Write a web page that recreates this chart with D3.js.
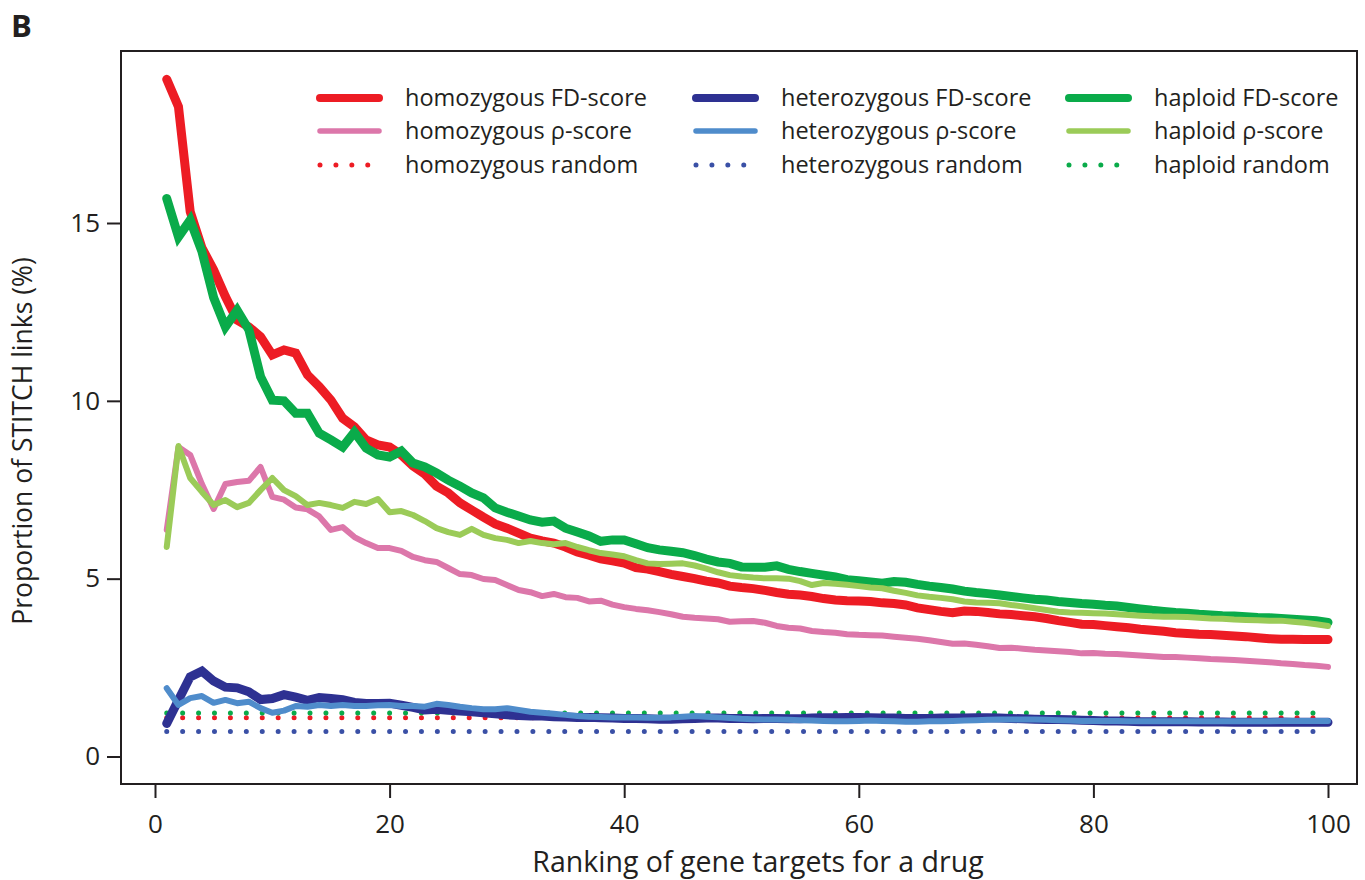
<!DOCTYPE html>
<html>
<head>
<meta charset="utf-8">
<script src="https://cdn.jsdelivr.net/npm/d3@7/dist/d3.min.js"></script>
<style>
  html, body { margin: 0; padding: 0; background: #fff; }
  svg { display: block; }
  text { font-family: "Open Sans", "DejaVu Sans", sans-serif; fill: #231f20; }
</style>
</head>
<body>
<svg id="chart" width="1365" height="880"></svg>
<script>
// Rank of the gene target (1..100)
const ranks = d3.range(1, 101);

// Proportion of STITCH links (%) per rank
const homozygousFD = [
  19.04, 18.27, 15.32, 14.3, 13.68, 12.93, 12.27, 12.08, 11.8, 11.29,
  11.43, 11.34, 10.73, 10.4, 10.02, 9.51, 9.27, 8.9, 8.76, 8.7,
  8.48, 8.17, 7.94, 7.6, 7.41, 7.13, 6.93, 6.73, 6.54, 6.42,
  6.28, 6.14, 6.06, 6.0, 5.89, 5.75, 5.66, 5.56, 5.5, 5.44,
  5.31, 5.27, 5.2, 5.12, 5.06, 5.0, 4.93, 4.88, 4.79, 4.75,
  4.72, 4.67, 4.61, 4.56, 4.54, 4.5, 4.44, 4.4, 4.38, 4.37,
  4.36, 4.32, 4.3, 4.26, 4.18, 4.13, 4.08, 4.04, 4.09, 4.08,
  4.05, 4.01, 3.99, 3.96, 3.93, 3.88, 3.82, 3.77, 3.72, 3.71,
  3.68, 3.65, 3.62, 3.58, 3.55, 3.52, 3.48, 3.46, 3.44, 3.43,
  3.41, 3.39, 3.37, 3.34, 3.31, 3.3, 3.3, 3.29, 3.29, 3.29
];
const homozygousRho = [
  6.37, 8.7, 8.48, 7.66, 6.96, 7.66, 7.72, 7.75, 8.14, 7.3,
  7.22, 7.0, 6.95, 6.75, 6.37, 6.45, 6.17, 6.0, 5.86, 5.86,
  5.78, 5.61, 5.52, 5.47, 5.3, 5.13, 5.1, 4.99, 4.96, 4.82,
  4.68, 4.62, 4.51, 4.57, 4.48, 4.46, 4.36, 4.38, 4.27, 4.2,
  4.15, 4.11, 4.06, 4.0, 3.93, 3.9, 3.88, 3.86, 3.79, 3.8,
  3.81, 3.76, 3.67, 3.62, 3.6, 3.53, 3.5, 3.48, 3.44, 3.42,
  3.41, 3.4, 3.37, 3.34, 3.31, 3.27, 3.22, 3.17, 3.18, 3.14,
  3.1, 3.05, 3.06, 3.03, 3.0, 2.98, 2.96, 2.94, 2.9, 2.91,
  2.89, 2.88, 2.86, 2.84, 2.82, 2.8, 2.8, 2.78, 2.76, 2.74,
  2.73, 2.71, 2.69, 2.67, 2.65, 2.62, 2.6, 2.57, 2.55, 2.52
];
const heterozygousFD = [
  0.93, 1.59, 2.24, 2.4, 2.12, 1.95, 1.93, 1.82, 1.6, 1.63,
  1.74, 1.67, 1.58, 1.66, 1.63, 1.6, 1.52, 1.49, 1.49, 1.5,
  1.44, 1.38, 1.31, 1.33, 1.3, 1.28, 1.26, 1.23, 1.2, 1.17,
  1.15, 1.14, 1.14, 1.12, 1.11, 1.1, 1.1, 1.09, 1.08, 1.07,
  1.07, 1.06, 1.05, 1.05, 1.06, 1.07, 1.08, 1.08, 1.07, 1.07,
  1.06, 1.07, 1.07, 1.06, 1.06, 1.08, 1.09, 1.09, 1.1, 1.1,
  1.09, 1.08, 1.08, 1.07, 1.07, 1.07, 1.08, 1.08, 1.08, 1.09,
  1.09, 1.08, 1.07, 1.06, 1.05, 1.04, 1.04, 1.03, 1.02, 1.01,
  1.0, 1.0, 0.99, 0.98, 0.98, 0.98, 0.98, 0.98, 0.97, 0.97,
  0.97, 0.96, 0.96, 0.96, 0.96, 0.97, 0.96, 0.96, 0.96, 0.96
];
const heterozygousRho = [
  1.92, 1.45, 1.64, 1.7, 1.51, 1.59, 1.5, 1.54, 1.36, 1.23,
  1.29, 1.42, 1.4, 1.45, 1.42, 1.45, 1.42, 1.42, 1.44, 1.45,
  1.42, 1.42, 1.4, 1.48, 1.45, 1.4, 1.36, 1.33, 1.33, 1.36,
  1.31, 1.26, 1.23, 1.2, 1.17, 1.14, 1.12, 1.11, 1.1, 1.1,
  1.1, 1.09, 1.09, 1.1, 1.12, 1.14, 1.12, 1.1, 1.08, 1.06,
  1.05, 1.04, 1.04, 1.03, 1.02, 1.01, 1.0, 0.99, 0.99, 1.0,
  1.01, 1.0, 0.99, 0.98, 0.98, 0.99, 0.99, 1.0, 1.01, 1.02,
  1.03, 1.04, 1.04, 1.04, 1.04, 1.03, 1.02, 1.01, 1.0, 1.0,
  1.0, 1.0, 0.99, 0.99, 0.99, 0.99, 0.99, 0.99, 0.99, 0.99,
  0.99, 0.99, 0.99, 0.99, 0.99, 1.0, 1.0, 1.0, 1.0, 1.0
];
const haploidFD = [
  15.69, 14.61, 15.08, 14.2, 12.9, 12.08, 12.55, 12.0, 10.68, 10.02,
  10.0, 9.65, 9.65, 9.09, 8.9, 8.7, 9.12, 8.67, 8.48, 8.42,
  8.59, 8.25, 8.14, 7.97, 7.77, 7.6, 7.41, 7.27, 6.99, 6.87,
  6.76, 6.65, 6.59, 6.62, 6.42, 6.31, 6.2, 6.05, 6.09, 6.09,
  5.98, 5.87, 5.81, 5.77, 5.73, 5.65, 5.55, 5.47, 5.43, 5.33,
  5.32, 5.32, 5.36, 5.26, 5.2, 5.15, 5.1, 5.05, 4.97, 4.94,
  4.91, 4.87, 4.92, 4.9, 4.84, 4.79, 4.75, 4.71, 4.65, 4.61,
  4.58, 4.54, 4.5, 4.46, 4.42, 4.4, 4.36, 4.33, 4.3, 4.28,
  4.25, 4.23, 4.19, 4.15, 4.11, 4.08, 4.05, 4.03, 4.0, 3.98,
  3.96, 3.95, 3.93, 3.91, 3.9, 3.88, 3.86, 3.84, 3.82, 3.77
];
const haploidRho = [
  5.89, 8.73, 7.83, 7.44, 7.07, 7.21, 7.01, 7.13, 7.49, 7.83,
  7.49, 7.32, 7.07, 7.13, 7.07, 6.99, 7.16, 7.1, 7.24, 6.87,
  6.9, 6.79, 6.62, 6.42, 6.31, 6.23, 6.4, 6.23, 6.14, 6.09,
  6.0, 6.06, 6.0, 5.97, 6.0, 5.89, 5.8, 5.72, 5.68, 5.63,
  5.52, 5.43, 5.41, 5.42, 5.43, 5.37, 5.28, 5.18, 5.1, 5.06,
  5.03, 5.01, 5.01, 5.0, 4.93, 4.82, 4.88, 4.86, 4.83, 4.79,
  4.75, 4.73, 4.66, 4.6, 4.53, 4.49, 4.46, 4.42, 4.36, 4.33,
  4.32, 4.31, 4.26, 4.22, 4.17, 4.12, 4.07, 4.05, 4.04, 4.03,
  4.02, 4.0, 3.98, 3.96, 3.94, 3.93, 3.93, 3.92, 3.9, 3.88,
  3.87, 3.85, 3.84, 3.83, 3.82, 3.82, 3.79, 3.76, 3.72, 3.67
];

// Random baselines (constant over rank)
const homozygousRandom = 1.09;
const heterozygousRandom = 0.70;
const haploidRandom = 1.22;

const xTicks = [0, 20, 40, 60, 80, 100];
const yTicks = [0, 5, 10, 15];

const seriesNames = [
  "homozygous FD-score", "homozygous ρ-score", "homozygous random",
  "heterozygous FD-score", "heterozygous ρ-score", "heterozygous random",
  "haploid FD-score", "haploid ρ-score", "haploid random"
];
const seriesValues = [
  homozygousFD, homozygousRho, ranks.map(() => homozygousRandom),
  heterozygousFD, heterozygousRho, ranks.map(() => heterozygousRandom),
  haploidFD, haploidRho, ranks.map(() => haploidRandom)
];

// line styling: kind 0 = FD (thick), 1 = rho (medium), 2 = random (dotted)
const styles = [
  { color: "#ed1c24", kind: 0 }, { color: "#dc77aa", kind: 1 }, { color: "#ed1c24", kind: 2 },
  { color: "#2e3192", kind: 0 }, { color: "#4f8ccb", kind: 1 }, { color: "#3a50a6", kind: 2 },
  { color: "#0aab4a", kind: 0 }, { color: "#9bcb58", kind: 1 }, { color: "#0aab4a", kind: 2 }
];
const widths = [9, 6, 5];

const svg = d3.select("#chart");
const box = { left: 121, top: 51, right: 1357, bottom: 784 };

const x = d3.scaleLinear().domain([0, 100]).range([155, 1328]);
const y = d3.scaleLinear().domain([0, 15]).range([756.5, 223]);

// panel letter
svg.append("text").attr("x", 11).attr("y", 37)
  .style("font-weight", "700").style("font-size", "31px").text("B");

// series
const line = d3.line().x((d, i) => x(ranks[i])).y(d => y(d));
const plot = svg.append("g");
const order = [2, 5, 8, 0, 1, 3, 4, 6, 7];
order.forEach(k => {
  const s = styles[k];
  const p = plot.append("path")
    .attr("d", line(seriesValues[k]))
    .attr("fill", "none")
    .attr("stroke", s.color)
    .attr("stroke-width", widths[s.kind])
    .attr("stroke-linecap", "round")
    .attr("stroke-linejoin", s.kind === 0 ? "miter" : "round")
    .attr("stroke-miterlimit", 3);
  if (s.kind === 2) p.attr("stroke-dasharray", "0 15.92");
});

// frame
svg.append("rect")
  .attr("x", box.left).attr("y", box.top)
  .attr("width", box.right - box.left).attr("height", box.bottom - box.top)
  .attr("fill", "none").attr("stroke", "#231f20").attr("stroke-width", 2);

// axes
const xAxis = svg.append("g").attr("transform", `translate(0,${box.bottom})`)
  .call(d3.axisBottom(x).tickValues(xTicks).tickSize(14).tickPadding(17).tickFormat(d3.format("d")));
const yAxis = svg.append("g").attr("transform", `translate(${box.left},0)`)
  .call(d3.axisLeft(y).tickValues(yTicks).tickSize(14).tickPadding(7).tickFormat(d3.format("d")));
[xAxis, yAxis].forEach(a => {
  a.select(".domain").remove();
  a.selectAll(".tick line").attr("stroke", "#231f20").attr("stroke-width", 2);
  a.selectAll(".tick text").style("font-family", "'Open Sans', sans-serif")
    .style("font-size", "26px").attr("fill", "#231f20");
});

// axis titles
svg.append("text").attr("x", 758).attr("y", 872).attr("text-anchor", "middle")
  .style("font-size", "28.5px").text("Ranking of gene targets for a drug");
svg.append("text").attr("transform", "translate(32,441) rotate(-90)")
  .attr("text-anchor", "middle").style("font-size", "26.5px")
  .text("Proportion of STITCH links (%)");

// legend: three columns of three rows
const legendCols = [320, 696, 1069];
const legendRows = [98, 131, 165];
seriesNames.forEach((name, k) => {
  const col = Math.floor(k / 3), row = k % 3;
  const s = styles[k];
  const g = svg.append("g");
  const x0 = legendCols[col], yy = legendRows[row];
  const seg = g.append("line")
    .attr("x1", x0).attr("x2", x0 + 59).attr("y1", yy).attr("y2", yy)
    .attr("stroke", s.color).attr("stroke-linecap", "round")
    .attr("stroke-width", s.kind === 0 ? 8 : s.kind === 1 ? 5.5 : 5);
  if (s.kind === 2) seg.attr("stroke-dasharray", "0 15.92");
  g.append("text").attr("x", x0 + 85).attr("y", yy + 8)
    .style("font-size", "23.5px").text(name);
});
</script>
</body>
</html>
